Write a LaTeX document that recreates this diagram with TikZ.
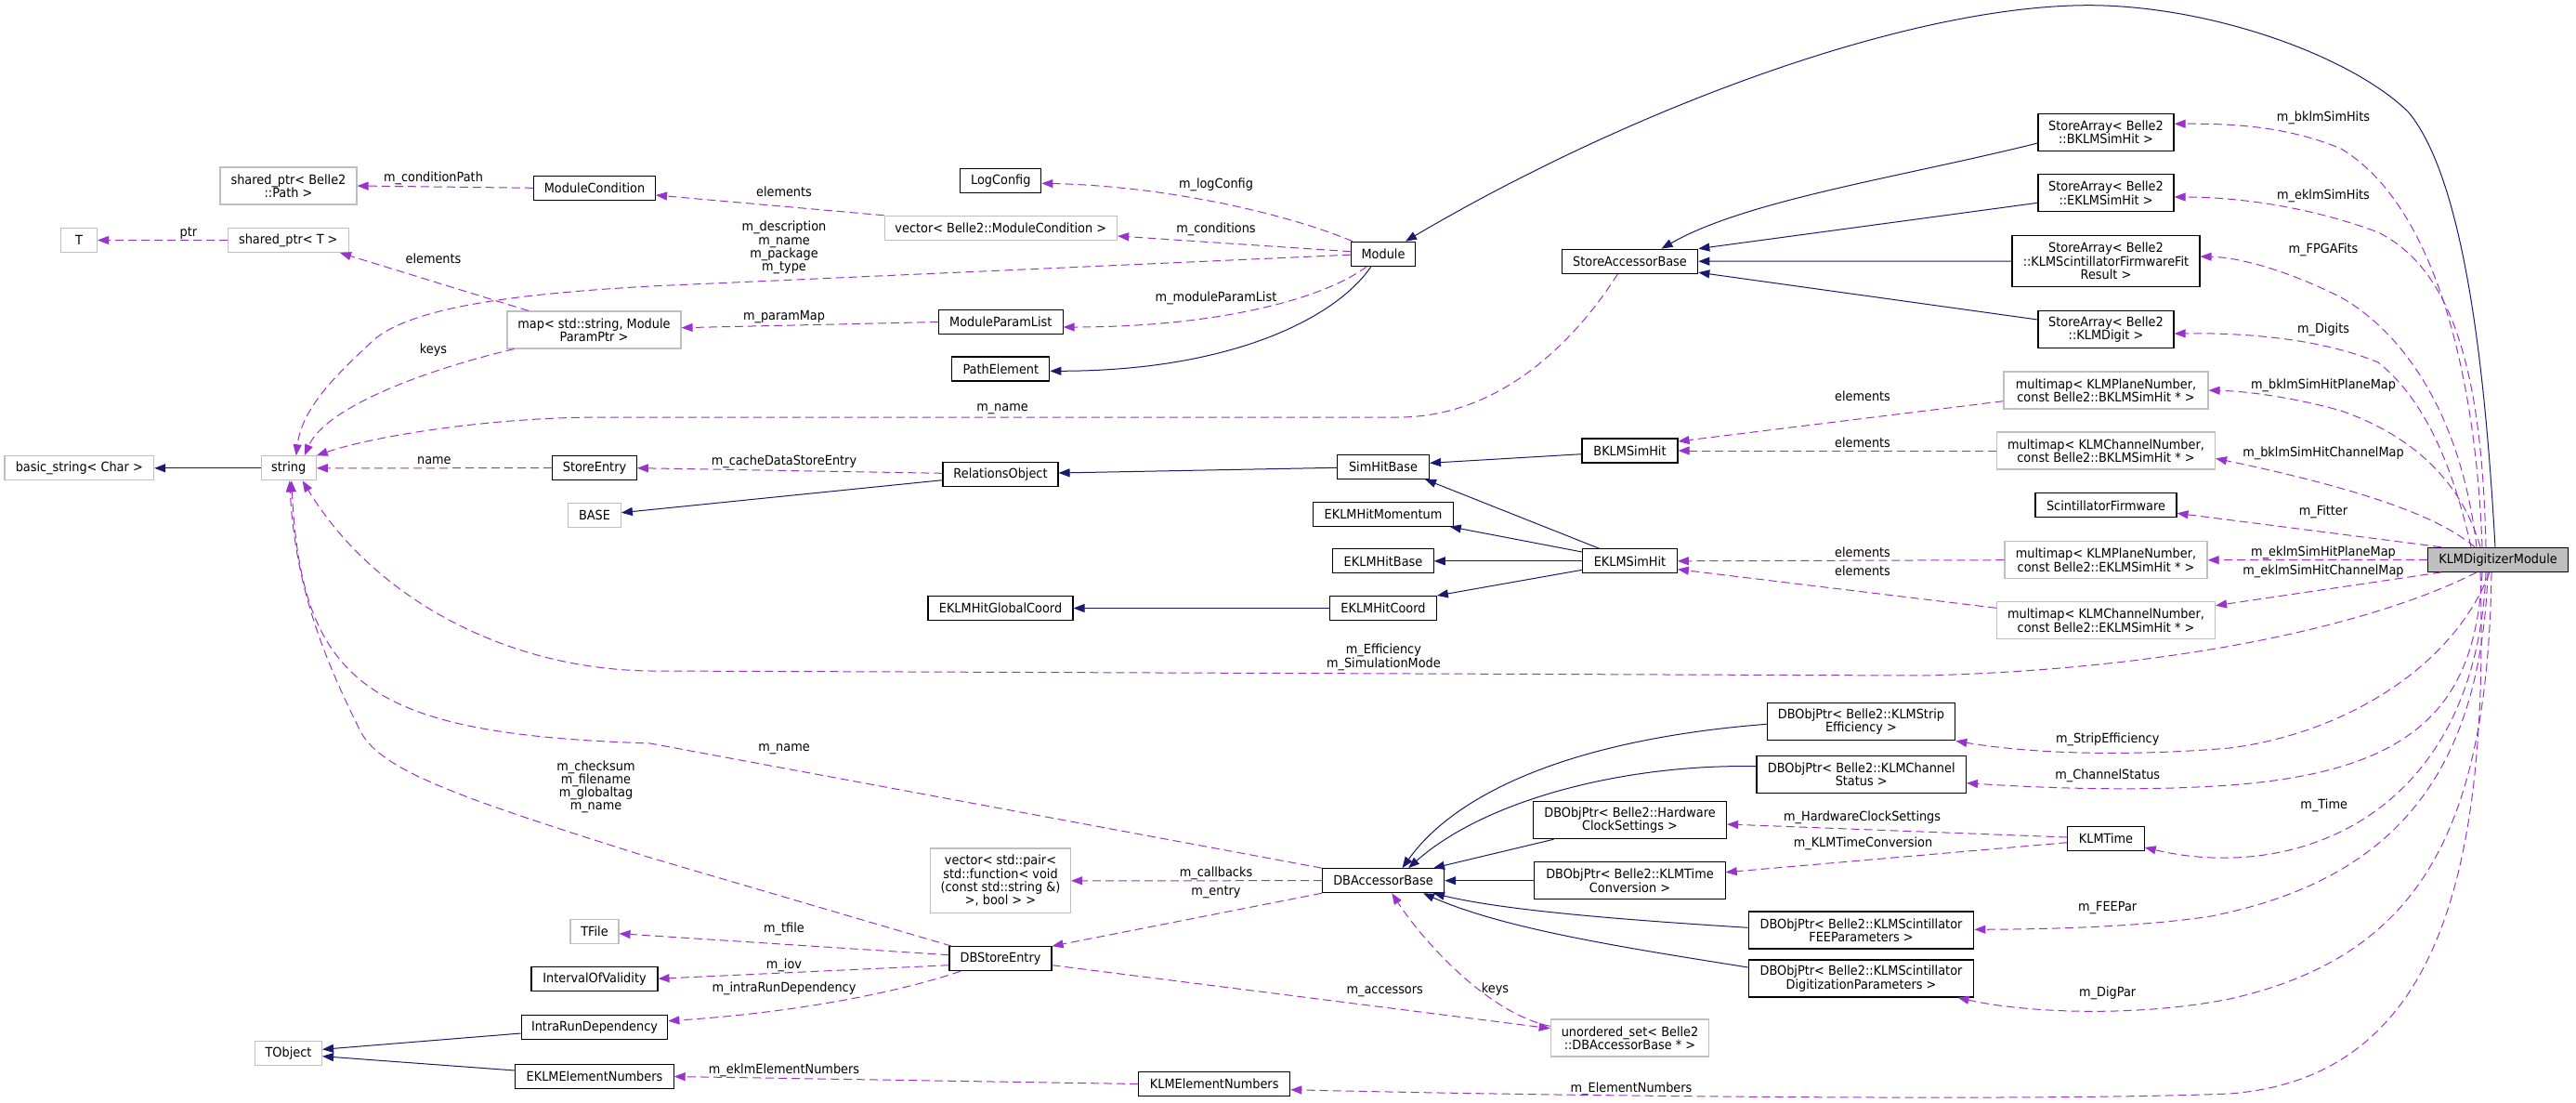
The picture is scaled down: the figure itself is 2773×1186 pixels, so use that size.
\documentclass[tikz,border=0pt]{standalone}
\usepackage{fontspec}
\setmainfont{DejaVu Sans}[FakeStretch=0.92]
\usetikzlibrary{arrows.meta,calc}
\definecolor{navyc}{HTML}{191970}
\definecolor{purp}{HTML}{9A32CD}
\definecolor{grayb}{HTML}{BFBFBF}
\newcommand\dfs{\fontsize{14}{14.3}\selectfont}
\begin{document}
\begin{tikzpicture}[x=1pt,y=-1pt,
  box/.style={draw=black, line width=1.1pt, rectangle, inner sep=0pt, align=center, font=\dfs, fill=white},
  gbox/.style={box, draw=grayb},
  bs/.style 2 args={minimum width=#1pt, minimum height=#2pt},
  inh/.style={draw=navyc, line width=1pt, -{Triangle[length=12pt,width=9pt]}},
  use/.style={draw=purp, line width=1pt, dash pattern=on 9pt off 5pt, -{Triangle[length=12pt,width=9pt]}},
  lbl/.style={font=\dfs, inner sep=0pt, align=center}
]
\fill[white] (0,0) rectangle (2773,1186);
\useasboundingbox (0,0) rectangle (2773,1186);

% ---------------- nodes ----------------
\node[gbox,bs={147}{40}] (SPPath) at (310.5,200) {shared\_ptr< Belle2\\::Path >};
\node[box,bs={131}{26}] (ModCond) at (640,202.3) {ModuleCondition};
\node[gbox,bs={39}{26}] (T) at (85,258.5) {T};
\node[gbox,bs={129.5}{26}] (SPT) at (310.3,258.5) {shared\_ptr< T >};
\node[gbox,bs={187}{40}] (map) at (639.5,355) {map< std::string, Module\\ParamPtr >};
\node[box,bs={87}{26}] (LogConfig) at (1077.3,194.5) {LogConfig};
\node[gbox,bs={250.5}{26}] (vecMC) at (1077.3,245.3) {vector< Belle2::ModuleCondition >};
\node[box,bs={133.5}{26}] (MPL) at (1077.3,346.5) {ModuleParamList};
\node[box,bs={105}{26}] (PathElement) at (1077.3,397) {PathElement};
\node[box,bs={69}{26}] (Module) at (1489,273.2) {Module};
\node[box,bs={146.5}{26}] (SAB) at (1754.5,281.2) {StoreAccessorBase};
\node[box,bs={146}{40}] (SABKLM) at (2267,142.3) {StoreArray< Belle2\\::BKLMSimHit >};
\node[box,bs={146}{40}] (SAEKLM) at (2267,207.7) {StoreArray< Belle2\\::EKLMSimHit >};
\node[box,bs={202}{54.6}] (SAFW) at (2267,281) {StoreArray< Belle2\\::KLMScintillatorFirmwareFit\\Result >};
\node[box,bs={146}{40}] (SADigit) at (2267,354.3) {StoreArray< Belle2\\::KLMDigit >};
\node[gbox,bs={220}{40}] (MMBPlane) at (2267,420) {multimap< KLMPlaneNumber,\\const Belle2::BKLMSimHit * >};
\node[gbox,bs={235}{40}] (MMBChan) at (2267,485) {multimap< KLMChannelNumber,\\const Belle2::BKLMSimHit * >};
\node[box,bs={152}{26}] (SciFW) at (2267,543.8) {ScintillatorFirmware};
\node[gbox,bs={218}{40}] (MMEPlane) at (2267,602.7) {multimap< KLMPlaneNumber,\\const Belle2::EKLMSimHit * >};
\node[gbox,bs={235}{40}] (MMEChan) at (2267,667.7) {multimap< KLMChannelNumber,\\const Belle2::EKLMSimHit * >};
\node[box,bs={150.5}{26},fill=grayb] (KDM) at (2689,602.3) {KLMDigitizerModule};
\node[box,bs={103}{26}] (BKLMSimHit) at (1754.5,485) {BKLMSimHit};
\node[box,bs={99}{26}] (SHB) at (1489,502.3) {SimHitBase};
\node[box,bs={150.4}{26}] (EHMom) at (1489,553.2) {EKLMHitMomentum};
\node[box,bs={108.4}{26}] (EHBase) at (1489,603.8) {EKLMHitBase};
\node[box,bs={101.7}{26}] (ESimHit) at (1754.5,603.8) {EKLMSimHit};
\node[box,bs={114.7}{26}] (EHCoord) at (1489,654.5) {EKLMHitCoord};
\node[box,bs={124}{26}] (RO) at (1077,510.3) {RelationsObject};
\node[box,bs={156}{26}] (EHGC) at (1077,654.5) {EKLMHitGlobalCoord};
\node[gbox,bs={160.7}{26}] (bstr) at (85.3,503.8) {basic\_string< Char >};
\node[gbox,bs={59}{26}] (string) at (310.7,503.8) {string};
\node[box,bs={90.7}{26}] (StoreEntry) at (640,503.7) {StoreEntry};
\node[gbox,bs={56.7}{26}] (BASE) at (640,554.5) {BASE};
\node[gbox,bs={52}{26}] (TFile) at (640,1002.5) {TFile};
\node[box,bs={136}{26}] (IOV) at (640,1053.2) {IntervalOfValidity};
\node[box,bs={157.6}{26}] (IRD) at (640,1105.3) {IntraRunDependency};
\node[gbox,bs={72}{26}] (TObject) at (310.5,1133.2) {TObject};
\node[box,bs={170.3}{26}] (EEN) at (640,1158.5) {EKLMElementNumbers};
\node[gbox,bs={151}{69.7}] (VecCB) at (1077,947.8) {vector< std::pair<\\std::function< void\\(const std::string \&)\\>, bool > >};
\node[box,bs={110}{26}] (DBSE) at (1077,1031.7) {DBStoreEntry};
\node[box,bs={163}{26}] (KEN) at (1307.2,1166.5) {KLMElementNumbers};
\node[box,bs={131.3}{26}] (DBAB) at (1489,947.7) {DBAccessorBase};
\node[box,bs={202.5}{40}] (DBStrip) at (2003.5,776.8) {DBObjPtr< Belle2::KLMStrip\\Efficiency >};
\node[box,bs={225.4}{40}] (DBChan) at (2003.7,833.2) {DBObjPtr< Belle2::KLMChannel\\Status >};
\node[box,bs={208}{40}] (DBHW) at (1754.5,882.7) {DBObjPtr< Belle2::Hardware\\ClockSettings >};
\node[box,bs={205.3}{40}] (DBTime) at (1754.5,947.7) {DBObjPtr< Belle2::KLMTime\\Conversion >};
\node[box,bs={242.7}{40}] (DBFEE) at (2003.5,1001) {DBObjPtr< Belle2::KLMScintillator\\FEEParameters >};
\node[box,bs={242.7}{40}] (DBDig) at (2003.5,1053) {DBObjPtr< Belle2::KLMScintillator\\DigitizationParameters >};
\node[gbox,bs={170.5}{40}] (uset) at (1754.5,1117) {unordered\_set< Belle2\\::DBAccessorBase * >};
\node[box,bs={82.2}{26}] (KLMTime) at (2267,902.5) {KLMTime};

% ---------------- labels ----------------
\node[lbl] (Lptr) at (203,251) {ptr};
\node[lbl] (LcondPath) at (466.5,192.3) {m\_conditionPath};
\node[lbl] (Lel1) at (466.5,278.7) {elements};
\node[lbl] (Lkeys1) at (466.5,376.7) {keys};
\node[lbl] (Lel2) at (844,206.7) {elements};
\node[lbl] (LlogCfg) at (1309,199.3) {m\_logConfig};
\node[lbl] (Lcond) at (1309,247.3) {m\_conditions};
\node[lbl] (Ldesc) at (844,266.7) {m\_description\\m\_name\\m\_package\\m\_type};
\node[lbl] (LparamMap) at (844,340.7) {m\_paramMap};
\node[lbl] (LmodPL) at (1309,320.7) {m\_moduleParamList};
\node[lbl] (Lname1) at (1079,440.7) {m\_name};
\node[lbl] (Lname2) at (467.4,496) {name};
\node[lbl] (Lcache) at (844,496.7) {m\_cacheDataStoreEntry};
\node[lbl] (Lbsh) at (2501,126.7) {m\_bklmSimHits};
\node[lbl] (Lesh) at (2501,210.7) {m\_eklmSimHits};
\node[lbl] (Lfpga) at (2501,268.7) {m\_FPGAFits};
\node[lbl] (Ldig) at (2501,354.7) {m\_Digits};
\node[lbl] (Lbpm) at (2501,414.7) {m\_bklmSimHitPlaneMap};
\node[lbl] (Lbcm) at (2501,487.7) {m\_bklmSimHitChannelMap};
\node[lbl] (Lfit) at (2501,550.7) {m\_Fitter};
\node[lbl] (Lepm) at (2501,594.7) {m\_eklmSimHitPlaneMap};
\node[lbl] (Lecm) at (2501,614.7) {m\_eklmSimHitChannelMap};
\node[lbl] (Lel3) at (2005,426.7) {elements};
\node[lbl] (Lel4) at (2005,476.7) {elements};
\node[lbl] (Lel5) at (2005,594.7) {elements};
\node[lbl] (Lel6) at (2005,614.7) {elements};
\node[lbl] (Leff) at (1489.4,707.2) {m\_Efficiency\\m\_SimulationMode};
\node[lbl] (Lname3) at (844,806.7) {m\_name};
\node[lbl] (Lchk) at (641.5,846.8) {m\_checksum\\m\_filename\\m\_globaltag\\m\_name};
\node[lbl] (Lcb) at (1309,940) {m\_callbacks};
\node[lbl] (Lentry) at (1309,960) {m\_entry};
\node[lbl] (Ltfile) at (844,1000.3) {m\_tfile};
\node[lbl] (Liov) at (844,1038.7) {m\_iov};
\node[lbl] (Lird) at (844,1063.7) {m\_intraRunDependency};
\node[lbl] (Leen) at (844,1151.7) {m\_eklmElementNumbers};
\node[lbl] (Lacc) at (1490.7,1067) {m\_accessors};
\node[lbl] (Lkeys2) at (1609.5,1064.7) {keys};
\node[lbl] (Lken) at (1756,1171.7) {m\_ElementNumbers};
\node[lbl] (Lhw) at (2004.6,879.7) {m\_HardwareClockSettings};
\node[lbl] (Ltc) at (2005.5,908) {m\_KLMTimeConversion};
\node[lbl] (Lstrip) at (2268.7,796) {m\_StripEfficiency};
\node[lbl] (Lchan) at (2268.7,835.3) {m\_ChannelStatus};
\node[lbl] (Ltime) at (2501.7,866.7) {m\_Time};
\node[lbl] (Lfee) at (2268.7,977) {m\_FEEPar};
\node[lbl] (Ldigp) at (2268.7,1068.7) {m\_DigPar};

% ---------------- inheritance (navy) ----------------
\draw[inh] (string.west) -- (bstr.east);
\draw[inh] ($(RO.west)+(0,6.4)$) -- ($(BASE.east)+(0,-2.8)$);
\draw[inh] ($(SHB.west)+(0,1)$) -- ($(RO.east)+(0,-1.3)$);
\draw[inh] ($(BKLMSimHit.west)+(0,3.7)$) -- ($(SHB.east)+(0,-4)$);
\draw[inh] ($(ESimHit.north)+(-33,0)$) -- ($(SHB.south)+(45,0)$);
\draw[inh] ($(ESimHit.west)+(0,-9.8)$) -- ($(EHMom.south)+(71.8,0)$);
\draw[inh] (ESimHit.west) -- (EHBase.east);
\draw[inh] ($(ESimHit.west)+(0,9.5)$) -- (EHCoord.north east);
\draw[inh] (EHCoord.west) -- (EHGC.east);
\draw[inh] ($(Module.south)+(-13,0)$) .. controls (1440,340) and (1330,399) .. ($(PathElement.east)+(0,2.3)$);
\draw[inh] ($(KDM.north)+(-3,0)$) .. controls (2678,450) and (2660,200) .. (2592,120)
  .. controls (2530,60) and (2380,6) .. (2248.6,5.7)
  .. controls (2050,6) and (1750,120) .. ($(Module.north)+(24,0)$);
\draw[inh] ($(SABKLM.west)+(0,11.7)$) .. controls (2050,190) and (1880,215) .. ($(SAB.north)+(34,0)$);
\draw[inh] ($(SAEKLM.west)+(0,10.6)$) -- (SAB.north east);
\draw[inh] (SAFW.west) -- (SAB.east);
\draw[inh] ($(SADigit.west)+(0,-10.3)$) -- ($(SAB.east)+(0,12)$);
\draw[inh] ($(IRD.west)+(0,6.7)$) -- ($(TObject.east)+(0,-3.9)$);
\draw[inh] ($(EEN.west)+(0,-6.5)$) -- ($(TObject.east)+(0,3.5)$);
\draw[inh] ($(DBStrip.west)+(0,2.5)$) .. controls (1700,795) and (1570,850) .. ($(DBAB.north)+(20.5,0)$);
\draw[inh] ($(DBChan.west)+(0,-8.5)$) .. controls (1750,822) and (1600,860) .. ($(DBAB.north)+(27,0)$);
\draw[inh] ($(DBHW.south)+(-82,0)$) -- ($(DBAB.north)+(54,0)$);
\draw[inh] (DBTime.west) -- (DBAB.east);
\draw[inh] ($(DBFEE.west)+(0,-2.7)$) .. controls (1750,990) and (1620,980) .. ($(DBAB.south)+(54,0)$);
\draw[inh] ($(DBDig.west)+(0,-12)$) .. controls (1750,1020) and (1620,1000) .. ($(DBAB.south)+(43,0)$);

% ---------------- usage (purple dashed) ----------------
\draw[use] (SPT.west) -- (T.east);
\draw[use] (ModCond.west) -- (SPPath.east);
\draw[use] ($(map.north)+(-70.5,0)$) -- ($(SPT.south)+(55.7,0)$);
\draw[use] ($(map.south)+(-86,0)$) .. controls (450,400) and (350,440) .. ($(string.north)+(17,0)$);
\draw[use] (vecMC.north west) -- ($(ModCond.east)+(0,7.7)$);
\draw[use] (StoreEntry.west) -- (string.east);
\draw[use] ($(RO.west)+(0,-1)$) -- (StoreEntry.east);
\draw[use] (MPL.west) -- ($(map.east)+(0,-2.3)$);
\draw[use] ($(Module.north)+(-33,0)$) .. controls (1380,228) and (1250,200) .. ($(LogConfig.east)+(0,2.8)$);
\draw[use] ($(Module.west)+(0,-2.5)$) -- ($(vecMC.east)+(0,8.7)$);
\draw[use] ($(Module.west)+(0,1)$) -- (700,308) .. controls (560,316) and (440,330) .. (400,368)
  .. controls (360,405) and (325,440) .. ($(string.north)+(8,0)$);
\draw[use] ($(Module.south)+(-17.5,0)$) .. controls (1420,325) and (1300,352) .. ($(MPL.east)+(0,5.5)$);
\draw[use] ($(SAB.south)+(-13,0)$) .. controls (1700,360) and (1620,449) .. (1505,449) -- (640,449)
  .. controls (520,450) and (400,470) .. (string.north east);
\draw[use] ($(KDM.south)+(-23,0)$) .. controls (2560,670) and (2350,720) .. (2070,727) -- (700,722)
  .. controls (540,720) and (400,640) .. ($(string.south)+(15,0)$);
\draw[use] (DBAB.north west) -- (700,800) .. controls (400,790) and (325,740) .. ($(string.south)+(3,0)$);
\draw[use] ($(DBSE.north west)+(3,0)$) -- (700,923) .. controls (500,860) and (410,830) .. (388,787)
  .. controls (355,720) and (318,640) .. ($(string.south)+(1,0)$);
\draw[use] ($(DBSE.west)+(0,-4)$) -- ($(TFile.east)+(0,2.2)$);
\draw[use] ($(DBSE.west)+(0,7)$) -- (IOV.east);
\draw[use] ($(DBSE.south)+(-43,0)$) .. controls (960,1070) and (850,1090) .. ($(IRD.east)+(0,-6.6)$);
\draw[use] (DBAB.west) -- (VecCB.east);
\draw[use] (DBAB.south west) -- (DBSE.north east);
\draw[use] ($(DBSE.east)+(0,7)$) -- ($(uset.west)+(0,-10.3)$);
\draw[use] ($(uset.west)+(0,-12.7)$) .. controls (1600,1090) and (1530,1010) .. ($(DBAB.south)+(9.3,0)$);
\draw[use] (KEN.west) -- (EEN.east);
\draw[use] ($(KDM.south)+(-19,0)$) .. controls (2680,950) and (2620,1160) .. (2400,1177)
  .. controls (2200,1185) and (1700,1180) .. ($(KEN.east)+(0,6.2)$);
\draw[use] ($(KLMTime.west)+(0,-1.5)$) -- ($(DBHW.east)+(0,4.3)$);
\draw[use] ($(KLMTime.west)+(0,4.2)$) -- ($(DBTime.east)+(0,-9)$);
\draw[use] ($(KDM.south)+(-13,0)$) .. controls (2665,880) and (2470,950) .. ($(KLMTime.east)+(0,9.5)$);
\draw[use] ($(KDM.south)+(-9,0)$) .. controls (2640,720) and (2520,790) .. (2400,805)
  .. controls (2280,815) and (2180,810) .. (DBStrip.south east);
\draw[use] ($(KDM.south)+(-17,0)$) .. controls (2665,760) and (2600,830) .. (2400,845)
  .. controls (2300,852) and (2200,848) .. ($(DBChan.east)+(0,9.5)$);
\draw[use] ($(KDM.south)+(-11,0)$) .. controls (2670,850) and (2560,950) .. (2380,986)
  .. controls (2300,998) and (2200,1000) .. ($(DBFEE.east)+(0,-0.7)$);
\draw[use] ($(KDM.south)+(-7,0)$) .. controls (2678,900) and (2600,1030) .. (2400,1075)
  .. controls (2300,1095) and (2180,1090) .. ($(DBDig.south)+(104,0)$);
\draw[use] ($(KDM.north)+(-17,0)$) .. controls (2665,400) and (2620,220) .. (2520,160)
  .. controls (2460,135) and (2400,133) .. ($(SABKLM.east)+(0,-9)$);
\draw[use] ($(KDM.north)+(-13,0)$) .. controls (2672,400) and (2640,290) .. (2560,250)
  .. controls (2480,220) and (2400,212) .. ($(SAEKLM.east)+(0,4.3)$);
\draw[use] ($(KDM.north)+(-23,0)$) .. controls (2650,450) and (2590,360) .. (2520,320)
  .. controls (2460,290) and (2410,277) .. ($(SAFW.east)+(0,-5)$);
\draw[use] ($(KDM.north)+(-29,0)$) .. controls (2640,500) and (2610,430) .. (2560,390)
  .. controls (2500,365) and (2420,358) .. ($(SADigit.east)+(0,4.7)$);
\draw[use] ($(KDM.north)+(-19,0)$) .. controls (2650,520) and (2600,470) .. (2520,442)
  .. controls (2470,428) and (2420,421) .. (MMBPlane.east);
\draw[use] ($(KDM.north)+(-25,0)$) .. controls (2630,560) and (2560,530) .. ($(MMBChan.east)+(0,8.3)$);
\draw[use] ($(KDM.north)+(-61,0)$) -- ($(SciFW.east)+(0,8.5)$);
\draw[use] (KDM.west) -- (MMEPlane.east);
\draw[use] ($(KDM.south)+(-61,0)$) -- ($(MMEChan.east)+(0,-16)$);
\draw[use] ($(MMBPlane.west)+(0,11.7)$) -- ($(BKLMSimHit.east)+(0,-10)$);
\draw[use] (MMBChan.west) -- (BKLMSimHit.east);
\draw[use] (MMEPlane.west) -- (ESimHit.east);
\draw[use] ($(MMEChan.west)+(0,-13.4)$) -- ($(ESimHit.east)+(0,8.9)$);
\end{tikzpicture}
\end{document}
